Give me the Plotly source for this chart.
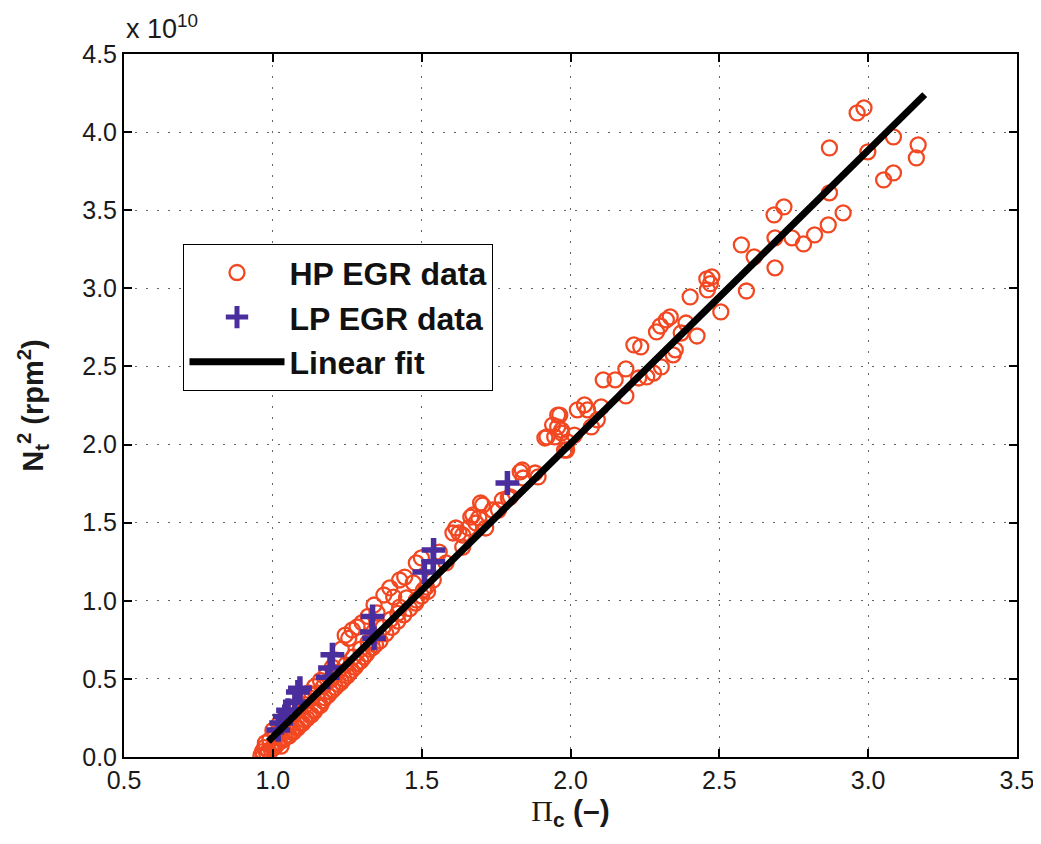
import plotly.graph_objects as go

# ---- data (y values in units of 1e10 rpm^2) ----
hp_pi = [
    0.960, 0.965, 0.972, 0.985, 1.000, 1.015, 1.028, 1.040, 1.055, 1.070, 1.084, 1.100,
    1.115, 1.130, 1.141, 1.160, 1.175, 1.194, 1.210, 1.230, 1.250, 1.265, 1.285, 1.306,
    1.325, 1.345, 1.360, 1.380, 1.400, 1.420, 1.440, 1.460, 1.480, 1.500, 1.520,
    0.975, 0.990, 1.010, 1.030, 1.050, 1.070, 1.090, 1.110, 1.130, 1.150, 1.170, 1.195,
    1.220, 1.245, 1.270, 1.295, 1.320, 1.340, 1.370, 1.395, 1.420,
    1.000, 1.020, 1.040, 1.060, 1.080, 1.100, 1.120, 1.140, 1.160, 1.180, 1.200, 1.215,
    1.230, 1.243, 1.255, 1.267, 1.283, 1.300, 1.320,
    1.340, 1.373, 1.393, 1.426, 1.443, 1.482, 1.499, 1.559, 1.605, 1.658, 1.682, 1.406,
    1.449, 1.506, 1.539, 1.582, 1.638, 1.350, 1.426, 1.482, 1.516, 1.472, 1.625, 1.665,
    1.705, 1.758, 1.791, 1.838, 1.891, 1.914, 1.957, 1.980,
    1.615, 1.638, 1.672, 1.698, 1.715, 1.738, 1.771, 1.798, 1.831, 1.841, 1.881, 1.921,
    1.940, 1.957, 1.970, 1.987, 1.990, 2.023, 2.047, 2.070, 2.090, 2.103, 1.947, 2.013,
    1.692,
    2.110, 2.186, 2.236, 2.302, 2.322, 2.402, 2.425, 2.458, 2.475, 2.505, 2.574, 2.591,
    2.345, 2.305, 2.256, 2.186, 2.150, 2.057, 1.964, 1.970, 2.335, 2.289, 2.388, 2.372,
    2.279, 2.229, 2.352, 2.213, 2.470, 2.460,
    2.963, 2.986, 2.870, 3.085, 3.168, 3.162, 2.999, 3.052, 3.085, 2.870, 2.916, 2.866,
    2.820, 2.783, 2.744, 2.717, 2.684, 2.687, 2.687, 2.617,
    0.968, 0.980, 0.995, 1.008, 1.022, 1.035, 1.048, 1.062, 1.078, 1.092, 1.106, 1.122,
    1.138, 1.152, 1.168, 1.185, 1.202, 1.220, 1.238, 1.256, 1.276, 1.296, 1.315, 1.335,
]
hp_n2 = [
    0.010, 0.035, 0.060, 0.040, 0.060, 0.090, 0.070, 0.120, 0.135, 0.160, 0.186, 0.215,
    0.245, 0.270, 0.294, 0.330, 0.380, 0.416, 0.445, 0.480, 0.519, 0.555, 0.600, 0.640,
    0.690, 0.720, 0.743, 0.790, 0.830, 0.870, 0.910, 0.950, 0.985, 1.030, 1.060,
    0.090, 0.110, 0.150, 0.190, 0.220, 0.265, 0.300, 0.335, 0.375, 0.410, 0.450, 0.495,
    0.545, 0.590, 0.640, 0.690, 0.735, 0.770, 0.830, 0.880, 0.920,
    0.170, 0.210, 0.250, 0.290, 0.330, 0.370, 0.410, 0.450, 0.490, 0.530, 0.575, 0.620,
    0.690, 0.780, 0.760, 0.813, 0.832, 0.860, 0.900,
    0.973, 1.037, 1.082, 1.133, 1.152, 1.242, 1.274, 1.312, 1.434, 1.466, 1.498, 1.024,
    1.018, 1.069, 1.133, 1.242, 1.344, 0.922, 0.960, 1.005, 1.088, 1.114, 1.434, 1.536,
    1.613, 1.581, 1.658, 1.837, 1.793, 2.042, 2.113, 1.965,
    1.466, 1.421, 1.549, 1.626, 1.466, 1.581, 1.645, 1.665, 1.825, 1.786, 1.818, 2.049,
    2.125, 2.189, 2.074, 1.965, 2.017, 2.222, 2.254, 2.113, 2.158, 2.241, 2.049, 2.061,
    1.530,
    2.414, 2.311, 2.625, 2.759, 2.798, 2.945, 2.695, 3.060, 3.073, 2.849, 3.278, 2.983,
    2.574, 2.497, 2.433, 2.484, 2.414, 2.222, 2.189, 2.093, 2.817, 2.721, 2.778, 2.714,
    2.458, 2.426, 2.606, 2.638, 3.030, 2.990,
    4.123, 4.155, 3.899, 3.969, 3.918, 3.835, 3.874, 3.694, 3.739, 3.611, 3.483, 3.406,
    3.342, 3.284, 3.323, 3.521, 3.470, 3.323, 3.131, 3.201,
    0.005, 0.020, 0.045, 0.065, 0.095, 0.110, 0.140, 0.160, 0.190, 0.215, 0.240, 0.270,
    0.300, 0.330, 0.360, 0.395, 0.430, 0.465, 0.500, 0.535, 0.575, 0.615, 0.660, 0.700,
]

lp_pi = [1.018, 1.028, 1.040, 1.051, 1.074, 1.084, 1.091, 1.184, 1.192, 1.200,
         1.333, 1.335, 1.340, 1.509, 1.539, 1.540, 1.788]
lp_n2 = [0.173, 0.218, 0.260, 0.300, 0.350, 0.416, 0.440, 0.510, 0.570, 0.655,
         0.800, 0.900, 0.760, 1.184, 1.250, 1.325, 1.754]

fit_pi = [0.985, 3.190]
fit_n2 = [0.100, 4.240]

x_ticks = [0.5, 1.0, 1.5, 2.0, 2.5, 3.0, 3.5]
y_ticks = [0.0, 0.5, 1.0, 1.5, 2.0, 2.5, 3.0, 3.5, 4.0, 4.5]

FONT = "Liberation Sans, Arial, sans-serif"
TXT = "#1a1a1a"

fig = go.Figure()
fig.add_trace(go.Scatter(
    x=hp_pi, y=hp_n2, mode="markers", name="HP EGR data",
    marker=dict(symbol="circle-open", size=15, color="#F24822",
                line=dict(width=2.3, color="#F24822")),
))
fig.add_trace(go.Scatter(
    x=lp_pi, y=lp_n2, mode="markers", name="LP EGR data",
    marker=dict(symbol="cross-thin", size=17, color="#4A2E9E",
                line=dict(width=5.5, color="#4A2E9E")),
))
fig.add_trace(go.Scatter(
    x=fit_pi, y=fit_n2, mode="lines", name="Linear fit",
    line=dict(color="black", width=7),
))

axis_common = dict(
    showline=True, linecolor="black", linewidth=2, mirror="ticks",
    ticks="inside", ticklen=8, tickwidth=1.5, tickcolor="black",
    showgrid=True, gridcolor="#666666", griddash="2px,9px", gridwidth=1.2,
    zeroline=False, tickfont=dict(family=FONT, size=25, color=TXT),
)

fig.update_xaxes(
    range=[0.4999, 3.5001], tickvals=x_ticks, ticktext=[f"{v:.1f}" for v in x_ticks],
    title=dict(
        text="<span style='font-family:Liberation Serif'>Π</span><sub><b>c</b></sub><b> (–)</b>",
        font=dict(family=FONT, size=30, color=TXT), standoff=6),
    **axis_common,
)
fig.update_yaxes(
    range=[0, 4.5], tickvals=y_ticks, ticktext=[f"{v:.1f}" for v in y_ticks],
    title=dict(text="<b>N<sub>t</sub><sup>2</sup> (rpm<sup>2</sup>)</b>",
               font=dict(family=FONT, size=29, color=TXT), standoff=30),
    **axis_common,
)

fig.add_annotation(
    xref="paper", yref="paper", x=0.0, y=1.0, xanchor="left", yanchor="bottom",
    text="x 10<sup>10</sup>", showarrow=False, yshift=8,
    font=dict(family=FONT, size=27, color=TXT),
)

fig.update_layout(
    width=1038, height=844,
    margin=dict(l=116, r=19, t=46, b=95),
    paper_bgcolor="white", plot_bgcolor="white",
    showlegend=True,
    legend=dict(
        x=0.0664, y=0.7297, xanchor="left", yanchor="top",
        bgcolor="white", bordercolor="black", borderwidth=1.2,
        font=dict(family=FONT, size=32, color="#111111"),
        itemwidth=95,
    ),
)
for tr in fig.data:
    tr.name = f"<b>{tr.name}</b>"

fig.write_html("out.html")
